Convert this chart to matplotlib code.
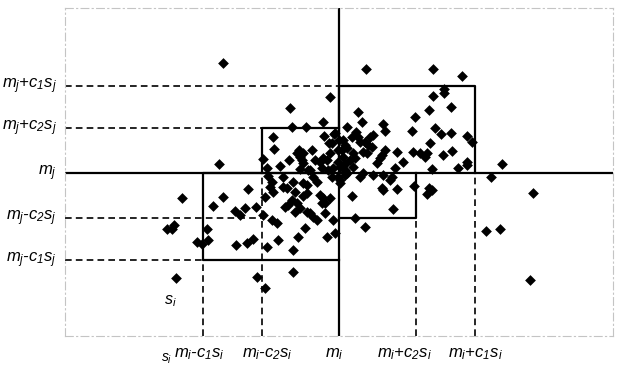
"""
Quadrant / box diagram: scatter of (i, j) with mean lines m_i, m_j and
the c1/c2 standard-deviation boxes drawn around them.
"""

import matplotlib
matplotlib.use("Agg")
import matplotlib.pyplot as plt  # noqa: E402

# === CONFIG ===
plt.rcParams["mathtext.fontset"] = "custom"
plt.rcParams["mathtext.it"] = "Liberation Sans:italic"
plt.rcParams["mathtext.rm"] = "Liberation Sans:italic"
plt.rcParams["font.family"] = ["Liberation Sans", "DejaVu Sans"]

W, H = 618, 367

# axis extent (arbitrary units)
X_MAX, Y_MAX = 548, 328

# means and offsets (c * s) along each axis
M_I, M_J = 274, 163
C1_SI, C2_SI = 136, 77
C1_SJ, C2_SJ = 87, 45

# scatter points (x, y)
POINTS = [
    # outliers on top
    (158, 273), (301, 267), (368, 267), (397, 260), (265, 239), (225, 228),
    # upper right box
    (379, 247), (379, 243), (368, 240), (386, 229), (364, 226), (293, 224),
    (297, 214), (350, 219), (282, 209), (318, 212), (320, 205), (347, 205),
    (370, 208), (376, 202), (386, 203), (402, 200), (407, 194), (291, 204),
    (293, 199), (295, 194), (287, 199), (300, 194), (305, 199), (303, 191),
    (308, 201), (365, 193), (278, 196), (280, 191), (277, 186), (282, 188),
    (274, 196), (288, 183), (298, 184), (302, 183), (285, 176), (290, 178),
    (288, 169), (280, 166), (275, 169), (320, 186), (317, 181), (315, 178),
    (312, 173), (332, 184), (338, 174), (330, 168), (348, 184), (355, 183),
    (362, 183), (360, 179), (378, 181), (387, 185), (367, 167), (393, 168),
    (402, 174), (402, 171), (307, 189),
    # small upper box / centre
    (227, 209), (241, 209), (258, 214), (270, 203), (208, 199), (209, 187),
    (198, 177), (215, 170), (202, 168), (203, 160), (224, 176), (232, 183),
    (235, 179), (237, 176), (238, 173), (234, 186), (255, 174), (258, 178),
    (262, 176), (257, 168), (263, 166), (265, 183), (267, 193), (273, 186),
    (278, 179), (280, 172), (273, 174), (268, 168), (245, 166), (235, 167),
    (259, 200), (269, 202), (264, 193), (247, 186), (250, 176), (238, 183),
    # lower left box
    (282, 163), (273, 159), (267, 159), (248, 159), (252, 154), (275, 153),
    (243, 166), (242, 151), (218, 159), (205, 149), (208, 144), (218, 149),
    (200, 139), (207, 154), (222, 148), (228, 154), (230, 144), (238, 153),
    (242, 143), (227, 136), (223, 131), (232, 133), (235, 128), (230, 124),
    (220, 129), (238, 140), (245, 123), (242, 124), (248, 119), (252, 116),
    (240, 108), (255, 141), (258, 138), (260, 133), (257, 133), (265, 138),
    (198, 121), (207, 116), (212, 113), (233, 99), (213, 96), (202, 89),
    (228, 86), (262, 99), (270, 103), (260, 123), (268, 116), (117, 138),
    (158, 139), (183, 147), (148, 130), (170, 125), (175, 121), (180, 128),
    (191, 129), (102, 107), (107, 107), (109, 111), (132, 94), (137, 92),
    (142, 107), (143, 96), (171, 91), (182, 93), (188, 97), (111, 58),
    (192, 59), (200, 48), (228, 64), (154, 172),
    # lower right box
    (280, 161), (275, 156), (295, 159), (298, 163), (308, 161), (318, 161),
    (325, 156), (327, 159), (287, 140), (317, 148), (318, 146), (332, 147),
    (349, 150), (328, 127), (364, 148), (362, 142), (367, 146), (290, 118),
    (300, 109),
    # right outliers
    (426, 159), (437, 172), (468, 143), (421, 105), (435, 107), (465, 56),
]
PTS_X = [p[0] for p in POINTS]
PTS_Y = [p[1] for p in POINTS]

Y_LABELS = [r"$m_j$+$c_1s_j$", r"$m_j$+$c_2s_j$", r"$m_j$",
            r"$m_j$-$c_2s_j$", r"$m_j$-$c_1s_j$"]
X_LABELS = [r"$m_i$-$c_1s_i$", r"$m_i$-$c_2s_i$", r"$m_i$",
            r"$m_i$+$c_2s_i$", r"$m_i$+$c_1s_i$"]


def main():
    fig = plt.figure(figsize=(W / 100, H / 100), dpi=100)
    ax = fig.add_axes([65 / W, 31 / H, 548 / W, 328 / H])
    ax.set_xlim(0, X_MAX)
    ax.set_ylim(0, Y_MAX)
    ax.set_xticks([])
    ax.set_yticks([])
    for sp in ax.spines.values():
        sp.set_color("#c4c4c4")
        sp.set_linewidth(0.8)
        sp.set_linestyle((0, (7, 3, 1, 3)))

    dash = dict(color="black", lw=1.2, ls=(0, (4, 2.5)))
    solid = dict(color="black", lw=1.6)

    xl1, xl2 = M_I - C1_SI, M_I - C2_SI
    xh1, xh2 = M_I + C1_SI, M_I + C2_SI
    yl1, yl2 = M_J - C1_SJ, M_J - C2_SJ
    yh1, yh2 = M_J + C1_SJ, M_J + C2_SJ

    # dashed guides
    ax.plot([0, M_I], [yh1, yh1], **dash)
    ax.plot([0, xl2], [yh2, yh2], **dash)
    ax.plot([0, xl2], [yl2, yl2], **dash)
    ax.plot([0, xl1], [yl1, yl1], **dash)
    ax.plot([xl1, xl1], [0, yl1], **dash)
    ax.plot([xl2, xl2], [0, M_J], **dash)
    ax.plot([xh2, xh2], [0, yl2], **dash)
    ax.plot([xh1, xh1], [0, M_J], **dash)

    # mean lines
    ax.plot([M_I, M_I], [0, Y_MAX], **solid)
    ax.plot([0, X_MAX], [M_J, M_J], **solid)

    # boxes
    ax.plot([M_I, M_I, xh1, xh1], [M_J, yh1, yh1, M_J], **solid)
    ax.plot([M_I, xl2, xl2], [yh2, yh2, M_J], **solid)
    ax.plot([M_I, xl1, xl1, M_I], [M_J, M_J, yl1, yl1], **solid)
    ax.plot([M_I, xh2, xh2], [yl2, yl2, M_J], **solid)

    ax.scatter(PTS_X, PTS_Y, marker="D", s=30, color="black", lw=0, zorder=5)

    ax.text(105, 35, r"$s_i$", fontsize=11.5, ha="center", va="center")

    # axis labels
    y_pos = [yh1, yh2, M_J, yl2, yl1]
    for lab, yv in zip(Y_LABELS, y_pos):
        ax.text(-8, yv, lab, fontsize=12, fontstyle="italic",
                ha="right", va="center", clip_on=False)
    x_pos = [xl1 - 4, xl2 + 5, M_I - 5, xh2 - 12, xh1]
    for lab, xv in zip(X_LABELS, x_pos):
        ax.text(xv, -18, lab, fontsize=12, fontstyle="italic",
                ha="center", va="center", clip_on=False)
    ax.text(102, -23, r"$s_i$", fontsize=10, ha="center", va="center",
            clip_on=False)

    fig.savefig("out.png", dpi=100)
    plt.close(fig)


if __name__ == "__main__":
    main()
